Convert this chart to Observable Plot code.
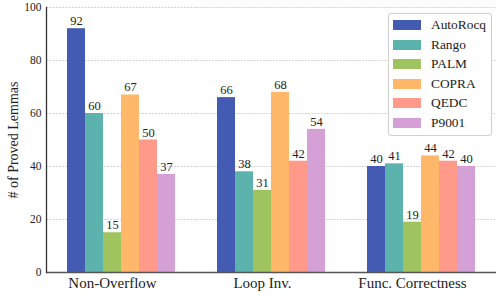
<!DOCTYPE html>
<html><head>
<meta charset="utf-8">
<script src="https://cdn.jsdelivr.net/npm/d3@7"></script>
<script src="https://cdn.jsdelivr.net/npm/@observablehq/plot@0.6"></script>
<style>
body{margin:0;background:#fff;}
#wrap{position:relative;width:496px;height:297px;font-family:"Liberation Serif",serif;}
#legend{position:absolute;left:388px;top:13px;width:104px;height:123px;border:1px solid #d0d0d0;border-radius:3px;background:rgba(255,255,255,0.9);box-sizing:border-box;}
.item{position:absolute;left:4px;height:14px;display:flex;align-items:center;}
.sw{width:28px;height:10px;margin-right:10px;}
.lab{font-family:"Liberation Serif",serif;font-size:13.4px;color:#222;line-height:14px;}
</style>
</head><body><div id="wrap"><div id="legend"></div></div>
<script>
const groups = ["Non-Overflow", "Loop Inv.", "Func. Correctness"];
const tools = ["AutoRocq", "Rango", "PALM", "COPRA", "QEDC", "P9001"];
const colors = ["#445bb4", "#5cb3ad", "#9fc35e", "#ffb869", "#ff9a8b", "#d4a0d6"];
const AutoRocq = [92, 66, 40];
const Rango = [60, 38, 41];
const PALM = [15, 31, 19];
const COPRA = [67, 68, 44];
const QEDC = [50, 42, 42];
const P9001 = [37, 54, 40];
const yTicks = [0, 20, 40, 60, 80, 100];

const series = {AutoRocq, Rango, PALM, COPRA, QEDC, P9001};
const data = [];
groups.forEach((g, i) => tools.forEach(t => data.push({group: g, tool: t, value: series[t][i]})));

const chart = Plot.plot({
  width: 496, height: 297,
  marginLeft: 45, marginRight: 0, marginTop: 7, marginBottom: 25,
  style: {fontFamily: "'Liberation Serif', serif", background: "white", color: "#222"},
  fx: {domain: groups, padding: 0, label: null},
  x: {domain: tools, paddingInner: 0, paddingOuter: 1.1, axis: null},
  y: {domain: [0, 100], ticks: yTicks, label: null},
  color: {domain: tools, range: colors},
  marks: [
    Plot.gridY(yTicks.slice(1), {stroke: "#c8c8c8", strokeOpacity: 1, strokeDasharray: "2,1.2", strokeWidth: 0.8}),
    Plot.barY(data, {fx: "group", x: "tool", y: "value", fill: "tool"}),
    Plot.text(data, {fx: "group", x: "tool", y: "value", text: "value", dy: -7.5, fontSize: 12.5, fill: "#222"}),
    Plot.ruleY([0], {stroke: "#555", strokeWidth: 1.5}),
    Plot.frame({anchor: "left", facetAnchor: "left", stroke: "#333", strokeWidth: 1.3}),
    Plot.axisY(yTicks, {tickSize: 0, tickPadding: 5, fontSize: 11.5, label: "# of Proved Lemmas", labelAnchor: "center", labelArrow: "none", labelOffset: 38}),
    Plot.axisFx({anchor: "bottom", tickSize: 0, tickPadding: 5, dx: -9, fontSize: 15, label: null})
  ]
});
chart.querySelectorAll("text").forEach(t => { if (t.textContent === "# of Proved Lemmas") t.setAttribute("font-size", 14); });
const wrap = document.getElementById("wrap");
wrap.insertBefore(chart, wrap.firstChild);

const legend = document.getElementById("legend");
tools.forEach((t, i) => {
  const it = document.createElement("div");
  it.className = "item";
  it.style.top = (4 + i * 19.6) + "px";
  it.innerHTML = `<div class="sw" style="background:${colors[i]}"></div><span class="lab">${t}</span>`;
  legend.appendChild(it);
});
</script>
</body></html>
